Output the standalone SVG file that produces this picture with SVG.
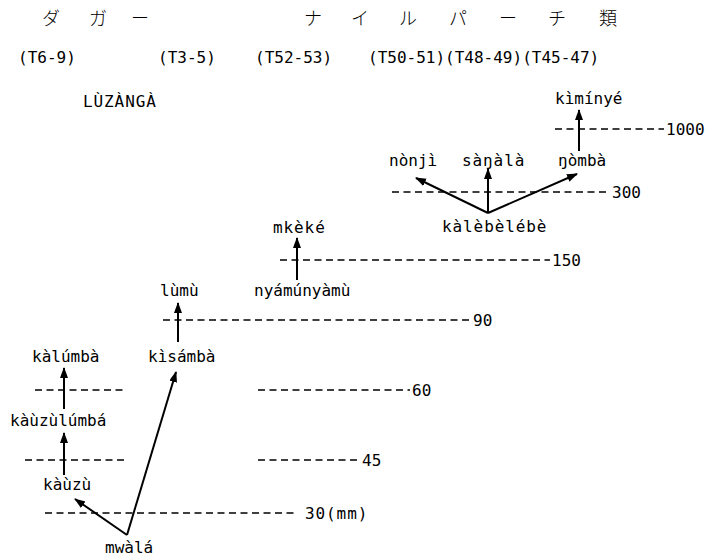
<svg xmlns="http://www.w3.org/2000/svg" width="713" height="557" viewBox="0 0 713 557">
  <style>
    .lbl { font-family: "DejaVu Sans Mono", "Liberation Mono", monospace; font-size: 16px; fill: #000; }
    .wide { letter-spacing: 0.9px; }
    .jp { font-family: "Noto Sans CJK JP", sans-serif; font-size: 18px; font-weight: 300; fill: #000; }
    .lvl { stroke: #000; stroke-width: 1.5; stroke-dasharray: 7 4.5; fill: none; }
    .arr { stroke: #000; stroke-width: 2; fill: none; marker-end: url(#head); }
  </style>
  <defs>
    <marker id="head" markerUnits="userSpaceOnUse" markerWidth="12" markerHeight="10" refX="10" refY="4" orient="auto">
      <path d="M0,0 L11,4 L0,8 Z" fill="#000"/>
    </marker>
  </defs>
  <rect width="713" height="557" fill="#fff"/>

  <!-- column headings -->
  <g id="headings">
    <text class="jp" x="42" y="25">ダ</text>
    <text class="jp" x="89" y="25">ガ</text>
    <text class="jp" x="131" y="25">ー</text>
    <text class="jp" x="304" y="25">ナ</text>
    <text class="jp" x="351" y="25">イ</text>
    <text class="jp" x="399" y="25">ル</text>
    <text class="jp" x="449" y="25">パ</text>
    <text class="jp" x="499" y="25">ー</text>
    <text class="jp" x="548" y="25">チ</text>
    <text class="jp" x="599" y="25">類</text>
    <text class="lbl" x="18" y="63">(T6-9)</text>
    <text class="lbl" x="158" y="63">(T3-5)</text>
    <text class="lbl" x="255" y="63">(T52-53)</text>
    <text class="lbl" x="368" y="63">(T50-51)(T48-49)(T45-47)</text>
    <text class="lbl wide" x="83" y="107">LÙZÀNGÀ</text>
  </g>

  <!-- size levels -->
  <g id="levels">
    <line class="lvl" x1="555" y1="129" x2="664" y2="129"/>
    <text class="lbl" x="666" y="135">1000</text>
    <line class="lvl" x1="392" y1="192" x2="610" y2="192"/>
    <text class="lbl" x="612" y="198">300</text>
    <line class="lvl" x1="280" y1="260" x2="550" y2="260"/>
    <text class="lbl" x="552" y="266">150</text>
    <line class="lvl" x1="163" y1="320" x2="470" y2="320"/>
    <text class="lbl" x="473" y="326">90</text>
    <line class="lvl" x1="35" y1="390" x2="127" y2="390"/>
    <line class="lvl" x1="258" y1="390" x2="410" y2="390"/>
    <text class="lbl" x="412" y="396">60</text>
    <line class="lvl" x1="25" y1="460" x2="127" y2="460"/>
    <line class="lvl" x1="258" y1="460" x2="360" y2="460"/>
    <text class="lbl" x="362" y="466">45</text>
    <line class="lvl" x1="45" y1="513" x2="295" y2="513"/>
    <text class="lbl wide" x="305" y="519">30(mm)</text>
  </g>

  <!-- names -->
  <g id="kiminye"><text class="lbl" x="555" y="104">kìmínyé</text></g>
  <g id="nonji"><text class="lbl" x="389" y="166">nònjì</text></g>
  <g id="sangala"><text class="lbl wide" x="462" y="166">sàŋàlà</text></g>
  <g id="ngomba"><text class="lbl" x="558" y="166">ŋòmbà</text></g>
  <g id="kalebelebe"><text class="lbl wide" x="442" y="232">kàlèbèlébè</text></g>
  <g id="mkeke"><text class="lbl wide" x="273" y="233">mkèké</text></g>
  <g id="nyamunyamu"><text class="lbl" x="254" y="296">nyámúnyàmù</text></g>
  <g id="lumu"><text class="lbl" x="160" y="296">lùmù</text></g>
  <g id="kalumba"><text class="lbl" x="32" y="362">kàlúmbà</text></g>
  <g id="kisamba"><text class="lbl" x="148" y="362">kìsámbà</text></g>
  <g id="kauzulumba"><text class="lbl" x="10" y="426">kàùzùlúmbá</text></g>
  <g id="kauzu"><text class="lbl" x="43" y="490">kàùzù</text></g>
  <g id="mwala"><text class="lbl" x="105" y="553">mwàlá</text></g>

  <!-- derivation arrows -->
  <g id="connectors">
    <line class="arr" x1="579" y1="151" x2="579" y2="110"/>
    <line class="arr" x1="488" y1="213" x2="416" y2="178"/>
    <line class="arr" x1="488" y1="213" x2="488" y2="169"/>
    <line class="arr" x1="488" y1="213" x2="577" y2="174"/>
    <line class="arr" x1="297" y1="280" x2="297" y2="238"/>
    <line class="arr" x1="178" y1="342" x2="178" y2="303"/>
    <line class="arr" x1="64" y1="409" x2="64" y2="368"/>
    <line class="arr" x1="64" y1="475" x2="64" y2="433"/>
    <line class="arr" x1="127" y1="535" x2="75" y2="499"/>
    <line class="arr" x1="127" y1="535" x2="176" y2="372"/>
  </g>
</svg>
